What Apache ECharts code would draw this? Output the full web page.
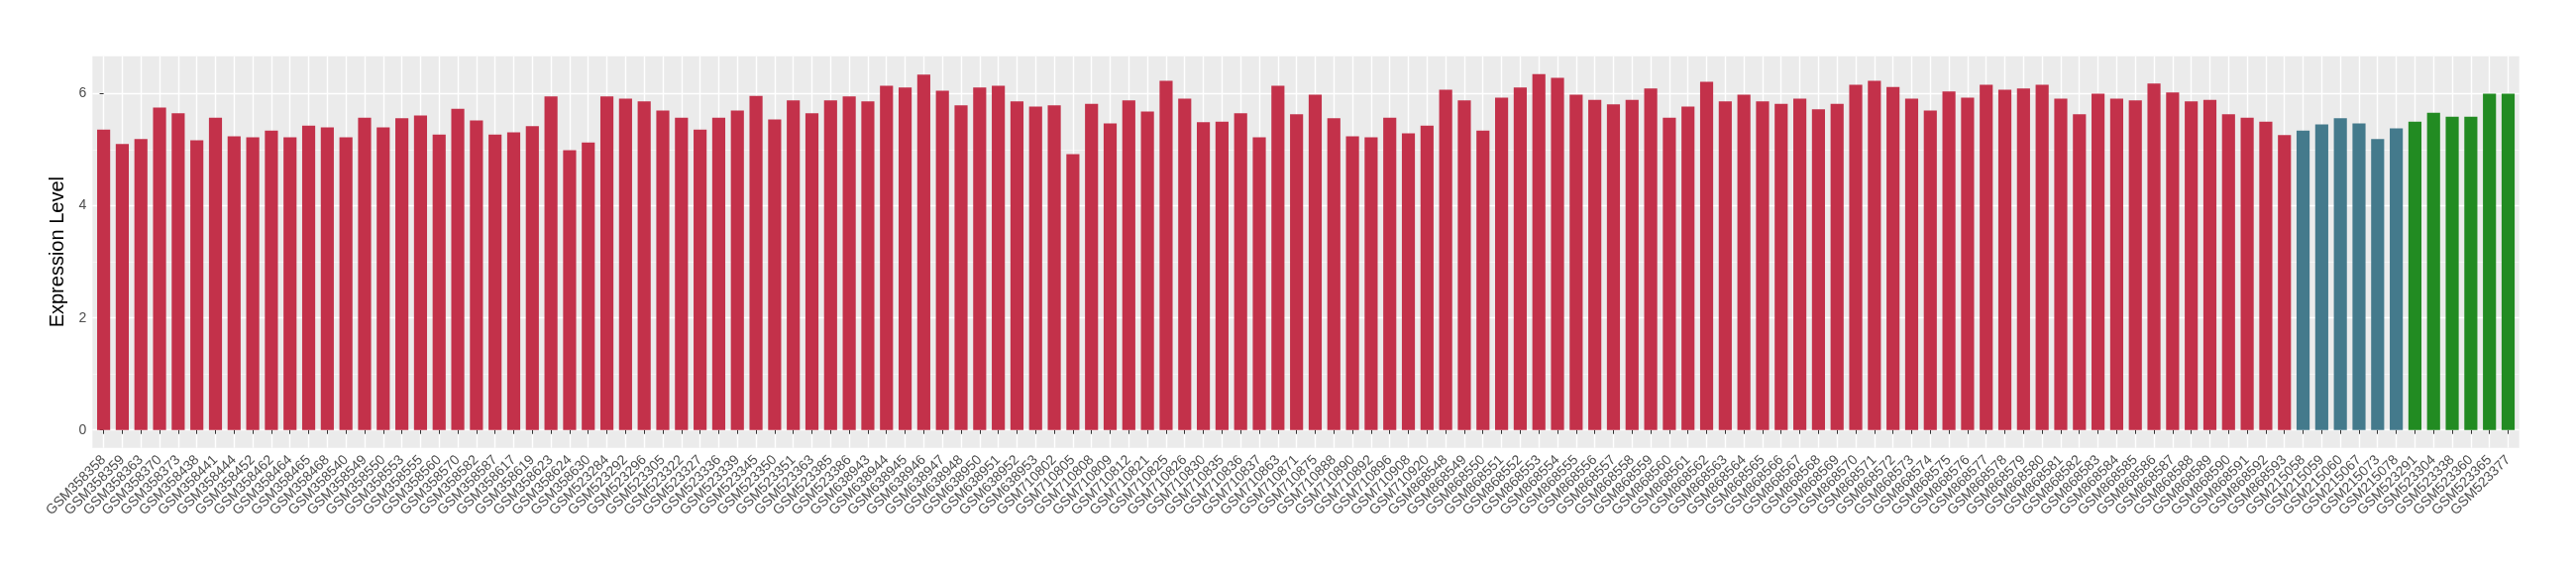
<!DOCTYPE html>
<html>
<head>
<meta charset="utf-8">
<script src="https://cdn.jsdelivr.net/npm/echarts@6/dist/echarts.min.js"></script>
<style>html,body{margin:0;padding:0;background:#fff}#c{width:2600px;height:580px}</style>
</head>
<body>
<div id="c"></div>
<script>
const categories = [
"GSM358358","GSM358359","GSM358363","GSM358370","GSM358373","GSM358438","GSM358441","GSM358444","GSM358452","GSM358462",
"GSM358464","GSM358465","GSM358468","GSM358540","GSM358549","GSM358550","GSM358553","GSM358555","GSM358560","GSM358570",
"GSM358582","GSM358587","GSM358617","GSM358619","GSM358623","GSM358624","GSM358630","GSM523284","GSM523292","GSM523296",
"GSM523305","GSM523322","GSM523327","GSM523336","GSM523339","GSM523345","GSM523350","GSM523351","GSM523363","GSM523385",
"GSM523386","GSM638943","GSM638944","GSM638945","GSM638946","GSM638947","GSM638948","GSM638950","GSM638951","GSM638952",
"GSM638953","GSM710802","GSM710805","GSM710808","GSM710809","GSM710812","GSM710821","GSM710825","GSM710826","GSM710830",
"GSM710835","GSM710836","GSM710837","GSM710863","GSM710871","GSM710875","GSM710888","GSM710890","GSM710892","GSM710896",
"GSM710908","GSM710920","GSM868548","GSM868549","GSM868550","GSM868551","GSM868552","GSM868553","GSM868554","GSM868555",
"GSM868556","GSM868557","GSM868558","GSM868559","GSM868560","GSM868561","GSM868562","GSM868563","GSM868564","GSM868565",
"GSM868566","GSM868567","GSM868568","GSM868569","GSM868570","GSM868571","GSM868572","GSM868573","GSM868574","GSM868575",
"GSM868576","GSM868577","GSM868578","GSM868579","GSM868580","GSM868581","GSM868582","GSM868583","GSM868584","GSM868585",
"GSM868586","GSM868587","GSM868588","GSM868589","GSM868590","GSM868591","GSM868592","GSM868593","GSM215058","GSM215059",
"GSM215060","GSM215067","GSM215073","GSM215078","GSM523291","GSM523304","GSM523338","GSM523360","GSM523365","GSM523377"
];
const values = [
5.36,5.10,5.19,5.75,5.65,5.17,5.57,5.24,5.22,5.34,
5.22,5.43,5.40,5.22,5.57,5.40,5.56,5.61,5.27,5.73,
5.52,5.27,5.31,5.42,5.95,4.99,5.13,5.95,5.91,5.86,
5.70,5.57,5.36,5.57,5.70,5.96,5.54,5.88,5.65,5.88,
5.95,5.86,6.14,6.11,6.34,6.05,5.79,6.11,6.14,5.86,
5.77,5.79,4.92,5.82,5.47,5.88,5.68,6.23,5.91,5.49,
5.50,5.65,5.22,6.14,5.63,5.98,5.56,5.24,5.22,5.57,
5.29,5.43,6.07,5.88,5.34,5.93,6.11,6.35,6.28,5.98,
5.89,5.81,5.89,6.09,5.57,5.77,6.21,5.86,5.98,5.86,
5.82,5.91,5.72,5.82,6.16,6.23,6.12,5.91,5.70,6.04,
5.93,6.16,6.07,6.09,6.16,5.91,5.63,6.00,5.91,5.88,
6.18,6.02,5.86,5.89,5.63,5.57,5.50,5.26,5.34,5.45,
5.56,5.47,5.19,5.38,5.50,5.66,5.59,5.59,6.00,6.00
];
// number of consecutive samples in each group, and group colours
const groupSizes = [118, 6, 6];
const groupColors = ["#C3314A", "#447A8C", "#228B22"];
const yMajorTicks = [0, 2, 4, 6];
const yMinorTicks = [1, 3, 5];
const yTitle = "Expression Level";

const groupOf = [];
groupSizes.forEach((s, g) => { for (let k = 0; k < s; k++) groupOf.push(g); });

const n = categories.length;
const dataMax = Math.max(...values);
const yMin = -0.05 * dataMax, yMax = dataMax * 1.05;
const idx = categories.map((_, i) => i);

const FONT = "Liberation Sans, Arial, Helvetica, sans-serif";
const chart = echarts.init(document.getElementById('c'), null, {renderer: 'canvas'});
chart.setOption({
  animation: false,
  backgroundColor: '#ffffff',
  grid: [
    {left: 93.3, right: 57.3, top: 56.7, bottom: 128.3, show: true, backgroundColor: '#EBEBEB', borderWidth: 0, containLabel: false},
    {left: 95.2, right: 59.1, top: 56.7, bottom: 128.3, show: false, containLabel: false}
  ],
  xAxis: [
    {gridIndex: 0, type: 'value', min: -0.6, max: n - 1 + 0.6,
     axisLine: {show: false},
     axisTick: {show: true, length: 4, lineStyle: {color: '#333333', width: 1}, customValues: idx},
     axisLabel: {show: false, customValues: idx},
     splitLine: {show: true, lineStyle: {color: '#ffffff', width: 1.4}}},
    {gridIndex: 1, type: 'category', data: categories, boundaryGap: true,
     axisLine: {show: false}, axisTick: {show: false}, splitLine: {show: false},
     axisLabel: {interval: 0, rotate: 45, margin: 10, color: '#4D4D4D', fontSize: 14, fontFamily: FONT}}
  ],
  yAxis: [
    {gridIndex: 0, type: 'value', min: yMin, max: yMax,
     name: yTitle, nameLocation: 'middle', nameGap: 20,
     nameTextStyle: {color: '#000000', fontSize: 20, fontFamily: FONT},
     axisLine: {show: false},
     axisTick: {show: true, length: 4, lineStyle: {color: '#333333', width: 1}, customValues: yMajorTicks},
     axisLabel: {color: '#4D4D4D', fontSize: 14, fontFamily: FONT, margin: 6, customValues: yMajorTicks},
     splitLine: {show: true, lineStyle: {color: '#ffffff', width: 1.4}}},
    {gridIndex: 0, type: 'value', min: yMin, max: yMax, position: 'left',
     axisLine: {show: false},
     axisTick: {show: false, customValues: yMinorTicks},
     axisLabel: {show: false, customValues: yMinorTicks},
     splitLine: {show: true, lineStyle: {color: '#F7F7F7', width: 0.8}}},
    {gridIndex: 1, type: 'value', min: yMin, max: yMax, show: false,
     splitLine: {show: false}}
  ],
  series: [{
    type: 'bar', xAxisIndex: 1, yAxisIndex: 2,
    data: values, barWidth: '70%',
    itemStyle: {color: p => groupColors[groupOf[p.dataIndex]]}
  }]
});
</script>
</body>
</html>
